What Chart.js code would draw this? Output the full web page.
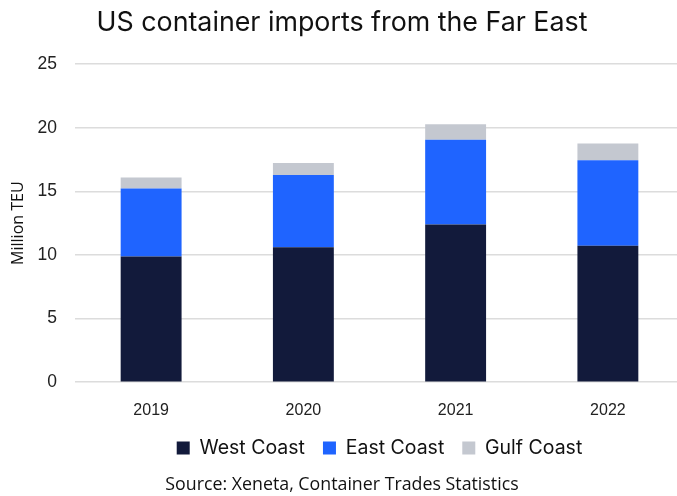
<!DOCTYPE html>
<html>
<head>
<meta charset="utf-8">
<script src="https://cdn.jsdelivr.net/npm/chart.js@4/dist/chart.umd.min.js"></script>
<style>
  html, body { margin: 0; padding: 0; background: #fff; overflow: hidden; }
  #wrap { width: 684px; height: 496px; position: relative; }
</style>
</head>
<body>
<div id="wrap"><canvas id="chart"></canvas></div>
<script>
// US container imports from the Far East, million TEU by coast of arrival
const years = ['2019', '2020', '2021', '2022'];
const westCoast = [9.87, 10.6, 12.39, 10.73];
const eastCoast = [5.36, 5.68, 6.66, 6.71];
const gulfCoast = [0.85, 0.95, 1.23, 1.32];
const yTicks = [0, 5, 10, 15, 20, 25];

const seriesNames = ['West Coast', 'East Coast', 'Gulf Coast'];
const seriesColors = ['#121a3b', '#1f64ff', '#c4c8d0'];
const seriesValues = [westCoast, eastCoast, gulfCoast];

const headFont = "'Inter', 'Lato', sans-serif";
const tickFont = "'Liberation Sans', Arial, sans-serif";
const noteFont = "'Open Sans', sans-serif";

new Chart(document.getElementById('chart'), {
  type: 'bar',
  data: {
    labels: years,
    datasets: seriesValues.map((vals, i) => ({
      label: seriesNames[i],
      data: vals,
      backgroundColor: seriesColors[i],
      borderWidth: 0,
      categoryPercentage: 1,
      barPercentage: 0.4
    }))
  },
  options: {
    responsive: true,
    maintainAspectRatio: false,
    animation: false,
    layout: { padding: { left: 0, right: 0, top: 0, bottom: 0 } },
    plugins: {
      title: {
        display: true,
        text: 'US container imports from the Far East',
        color: '#111',
        font: { family: headFont, size: 26.8, weight: 'normal' },
        padding: { top: 7, bottom: 25 },
        align: 'center',
        fullSize: true
      },
      subtitle: {
        display: true,
        position: 'bottom',
        text: 'Source: Xeneta, Container Trades Statistics',
        color: '#111',
        font: { family: noteFont, size: 17.8 },
        padding: { top: 7, bottom: 0 },
        fullSize: true
      },
      legend: {
        position: 'bottom',
        fullSize: false,
        labels: {
          color: '#111',
          font: { family: headFont, size: 19.5 },
          boxWidth: 13,
          boxHeight: 13,
          padding: 18
        }
      },
      tooltip: { enabled: false }
    },
    scales: {
      x: {
        stacked: true,
        grid: { display: false, drawTicks: false },
        border: { display: false },
        ticks: {
          color: '#222',
          font: { family: tickFont, size: 16 },
          padding: 18.4
        },
        afterFit: axis => { axis.height = 38; }
      },
      y: {
        stacked: true,
        min: 0,
        max: 25,
        afterBuildTicks: axis => { axis.ticks = yTicks.map(v => ({ value: v })); },
        afterFit: axis => { axis.width = 75; },
        grid: { color: '#dcdcdc', lineWidth: 1.5, drawTicks: false },
        border: { display: false },
        ticks: {
          color: '#222',
          font: { family: tickFont, size: 17.5 },
          padding: 18
        },
        title: {
          display: true,
          text: 'Million TEU',
          color: '#111',
          font: { family: noteFont, size: 16 },
          padding: { top: 9, bottom: 0 }
        }
      }
    }
  }
});
</script>
</body>
</html>
